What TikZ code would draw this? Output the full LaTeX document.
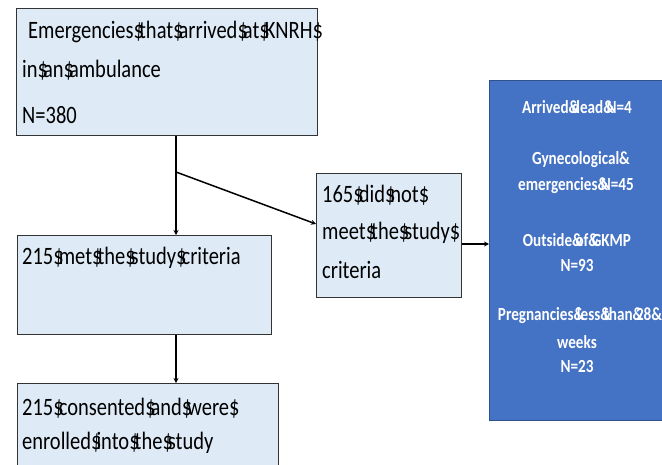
\documentclass[tikz,border=0pt]{standalone}
\usepackage{fontspec}
\setmainfont[FakeStretch=0.82]{Carlito}
\usetikzlibrary{arrows.meta}
\definecolor{boxfill}{HTML}{DEEBF7}
\definecolor{boxblue}{HTML}{4472C4}
\definecolor{boxedge}{HTML}{2F528F}
\newcommand{\dsep}{\$\kern-.2em}
\newcommand{\asep}{\&\kern-.4em}
\tikzset{
  box/.style={draw=black!80, line width=0.8pt, fill=boxfill, anchor=north west, inner sep=0pt},
  txt/.style={anchor=west, inner sep=0pt, font=\fontsize{25}{30}\selectfont},
  wtxt/.style={inner sep=0pt, text=white, font=\bfseries\fontsize{18.5}{22}\selectfont},
  arr/.style={line width=1.5pt, -{Stealth[length=5pt,width=5pt]}}
}
\begin{document}
\begin{tikzpicture}[x=1pt, y=-1pt]
            \useasboundingbox (0,0) rectangle (662,464);

            \node[box, minimum width=301pt, minimum height=127pt] (arrived) at (16,8) {};
            \node[box, minimum width=254pt, minimum height=99pt] (met) at (17,235) {};
            \node[box, minimum width=145pt, minimum height=124pt] (notmet) at (316,173) {};
            \node[box, minimum width=261pt, minimum height=100pt] (enrolled) at (17,383) {};
            \node[box, fill=boxblue, draw=boxedge, minimum width=176pt, minimum height=340pt] (excluded) at (489,80) {};

            \node[txt] (a1) at (28,32) {Emergencies\dsep that\dsep arrived\dsep at\dsep KNRH\dsep};
            \node[txt] (a2) at (22,70) {in\dsep an\dsep ambulance};
            \node[txt] (a3) at (22,115) {N=380};
            \node[txt] (m1) at (22,258) {215\dsep met\dsep the\dsep study\dsep criteria};
            \node[txt] (n1) at (322,195) {165\dsep did\dsep not\dsep};
            \node[txt] (n2) at (322,233) {meet\dsep the\dsep study\dsep};
            \node[txt] (n3) at (322,270) {criteria};
            \node[txt] (e1) at (22,408) {215\dsep consented\dsep and\dsep were\dsep};
            \node[txt] (e2) at (22,443) {enrolled\dsep into\dsep the\dsep study};

            \node[wtxt] (x1) at (577,107) {Arrived\asep dead\asep N=4};
            \node[wtxt] (x2) at (581,160) {Gynecological\&};
            \node[wtxt] (x3) at (576,186) {emergencies\asep N=45};
            \node[wtxt] (x4) at (577,240) {Outside\asep of\asep GKMP};
            \node[wtxt] (x5) at (577,265) {N=93};
            \node[wtxt] (x6) at (580,316) {Pregnancies\asep less\asep than\asep 28\&};
            \node[wtxt] (x7) at (577,342) {weeks};
            \node[wtxt] (x8) at (577,366) {N=23};

            \coordinate (split) at (176,172);
            \draw[arr] (arrived.south -| split) -- (met.north -| split);
            \draw[arr] (split) -- (notmet.west |- 0,224);
            \draw[arr] (met.south -| split) -- (enrolled.north -| split);
            \draw[arr] (notmet.east |- 0,244) -- (excluded.west |- 0,244);
        \end{tikzpicture}
\end{document}
